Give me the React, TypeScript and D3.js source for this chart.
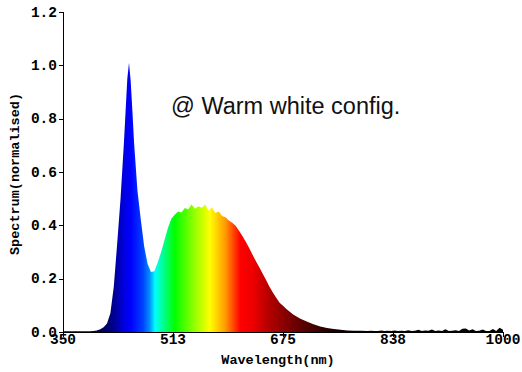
import React from "react";
import * as d3 from "d3";

const wavelengths = [
  350, 360, 370, 380, 390, 395, 400, 405, 410, 415, 420, 425, 430, 435, 440, 442.5, 445, 447.5, 450, 452.5, 455,
  460, 465, 470, 475, 480, 485, 490, 495, 500, 505, 510, 515, 520, 525, 530, 535, 540, 545, 550, 555, 560, 565,
  570, 575, 580, 585, 590, 595, 600, 605, 610, 615, 620, 625, 630, 635, 640, 645, 650, 655, 660, 665, 670, 675,
  680, 685, 690, 695, 700, 710, 720, 730, 740, 750, 760, 770, 780, 790,
  800, 805, 810, 815, 820, 825, 830, 835, 840, 845, 850, 855, 860, 865, 870, 875, 880, 885, 890, 895, 900,
  905, 910, 915, 920, 925, 930, 935, 940, 945, 950, 955, 960, 965, 970, 975, 980, 985, 990, 995, 1000,
];

const spectrum = [
  0.003, 0.003, 0.003, 0.003, 0.003, 0.004, 0.006, 0.01, 0.018, 0.032, 0.07, 0.17, 0.33, 0.5, 0.71, 0.83, 0.95, 1.01, 0.94, 0.83, 0.71,
  0.53, 0.42, 0.32, 0.255, 0.225, 0.228, 0.262, 0.3, 0.345, 0.39, 0.425, 0.44, 0.452, 0.448, 0.465, 0.46, 0.478, 0.462, 0.472, 0.466, 0.478, 0.455,
  0.468, 0.446, 0.452, 0.435, 0.43, 0.418, 0.41, 0.398, 0.38, 0.36, 0.338, 0.315, 0.29, 0.265, 0.243, 0.218, 0.195, 0.17, 0.148, 0.128, 0.11, 0.098,
  0.086, 0.076, 0.066, 0.058, 0.051, 0.039, 0.029, 0.021, 0.015, 0.011, 0.008, 0.006, 0.005, 0.005,
  0.004, 0.005, 0.004, 0.004, 0.006, 0.004, 0.005, 0.004, 0.006, 0.004, 0.005, 0.004, 0.007, 0.004, 0.005, 0.008, 0.004, 0.006, 0.005, 0.009, 0.004,
  0.006, 0.004, 0.01, 0.004, 0.005, 0.007, 0.004, 0.012, 0.013, 0.006, 0.01, 0.004, 0.005, 0.009, 0.004, 0.004, 0.011, 0.004, 0.016, 0.008,
];

const xTicks = [350, 512.5, 675, 837.5, 1000];
const xTickLabels = ["350", "513", "675", "838", "1000"];
const yTicks = [0, 0.2, 0.4, 0.6, 0.8, 1.0, 1.2];

const colorStopWl = [350, 400, 415, 425, 440, 450, 468, 478, 486, 500, 515, 540, 567, 590, 612, 630, 656, 700, 744, 780, 1000];
const colorStopCol = [
  "#000030", "#000050", "#00006a", "#000090", "#0000e0", "#0000ff", "#0040ff", "#0090ff", "#00ffff", "#00ff80",
  "#00ff00", "#80ff00", "#ffff00", "#ff9900", "#ff0000", "#ee0000", "#b00000", "#600000", "#200000", "#080000", "#000000",
];

const annotation = "@ Warm white config.";

export default function App() {
  const W = 522, H = 372;
  const left = 63, right = 503, top = 12, bottom = 332;
  const x = d3.scaleLinear().domain([350, 1000]).range([left, right]);
  const y = d3.scaleLinear().domain([0, 1.2]).range([bottom, top]);
  const pts = wavelengths.map((w, i) => [w, spectrum[i]] as [number, number]);
  const area = d3.area<[number, number]>()
    .x(d => x(d[0]))
    .y0(y(0))
    .y1(d => y(d[1]))
    .curve(d3.curveLinear);
  const mono = "'Liberation Mono', 'Courier New', monospace";
  return (
    <div style={{ position: "fixed", left: 0, top: 0 }}>
      <svg width={W} height={H} style={{ display: "block", background: "#fff" }}>
        <defs>
          <linearGradient id="spec" gradientUnits="userSpaceOnUse" x1={x(350)} x2={x(1000)} y1={0} y2={0}>
            {colorStopWl.map((w, i) => (
              <stop key={i} offset={(w - 350) / 650} stopColor={colorStopCol[i]} />
            ))}
          </linearGradient>
        </defs>
        <path d={area(pts) || ""} fill="url(#spec)" />
        <line x1={left} x2={right} y1={bottom + 0.5} y2={bottom + 0.5} stroke="#000" />
        <line x1={left + 0.5} x2={left + 0.5} y1={top} y2={bottom + 0.5} stroke="#000" />
        {xTicks.map((t, i) => (
          <g key={i}>
            <line x1={Math.round(x(t)) + 0.5} x2={Math.round(x(t)) + 0.5} y1={bottom} y2={bottom + 5} stroke="#000" />
            <text x={x(t)} y={344} textAnchor="middle" fontFamily={mono} fontWeight="bold" fontSize={14.5}>
              {xTickLabels[i]}
            </text>
          </g>
        ))}
        {yTicks.map((t, i) => (
          <g key={i}>
            <line x1={left - 4} x2={left} y1={Math.round(y(t)) + 0.5} y2={Math.round(y(t)) + 0.5} stroke="#000" />
            <text x={57} y={y(t) + 4.5} textAnchor="end" fontFamily={mono} fontWeight="bold" fontSize={14.5}>
              {t.toFixed(1)}
            </text>
          </g>
        ))}
        <text x={278} y={364} textAnchor="middle" fontFamily={mono} fontWeight="bold" fontSize={13.5}>
          Wavelength(nm)
        </text>
        <text transform={`translate(19,174) rotate(-90)`} textAnchor="middle" fontFamily={mono} fontWeight="bold" fontSize={13.5}>
          Spectrum(normalised)
        </text>
        <text x={171} y={114} fontFamily="'Liberation Sans', Arial, sans-serif" fontSize={23.5} fill="#111">
          {annotation}
        </text>
      </svg>
    </div>
  );
}
